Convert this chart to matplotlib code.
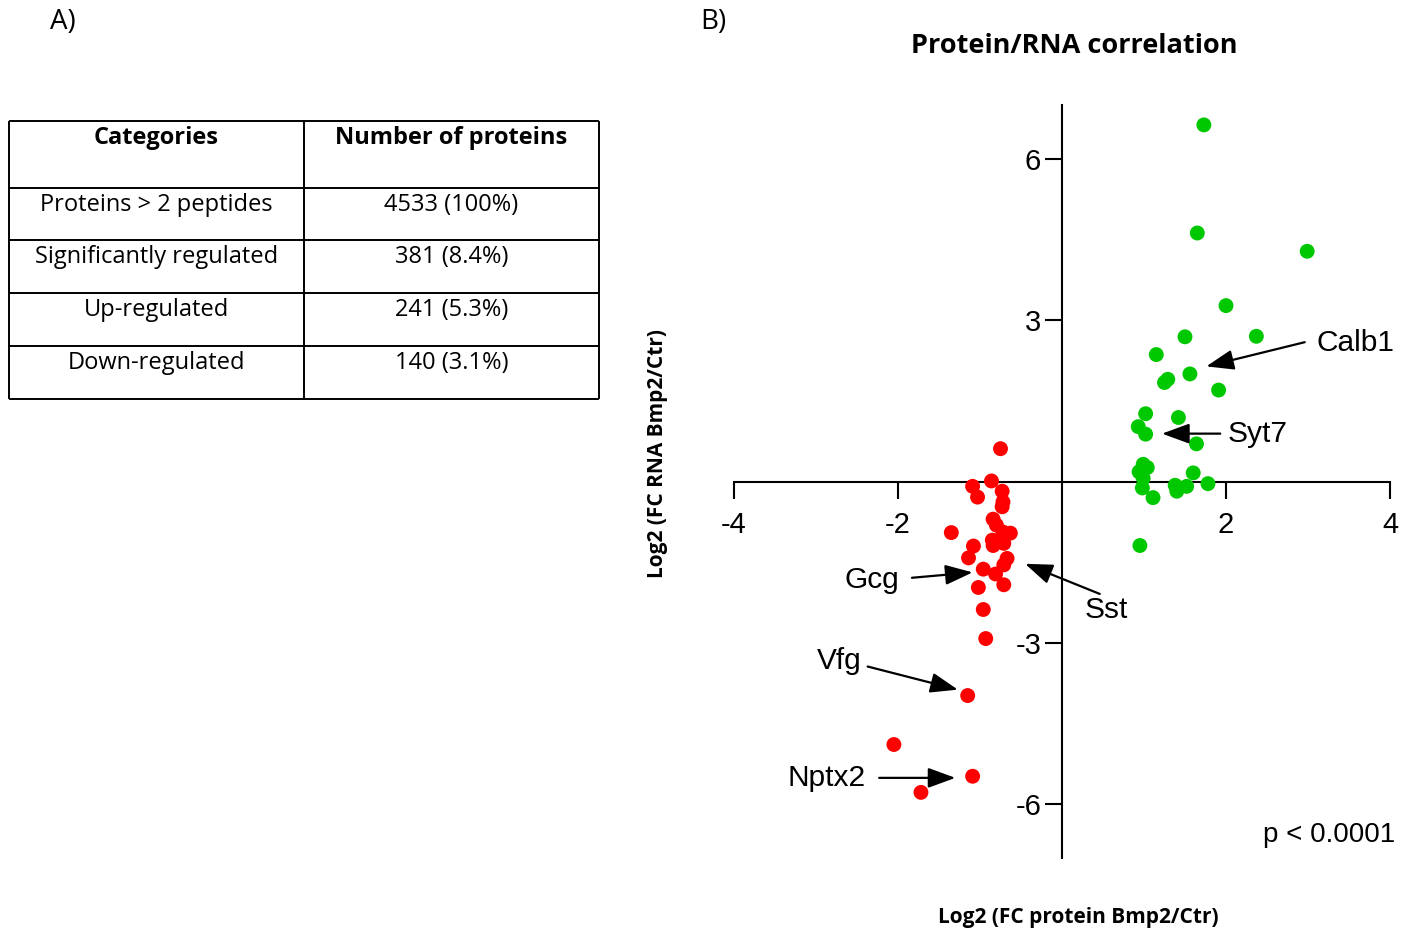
import numpy as np
import matplotlib.pyplot as plt

# table (panel A)
table_header = ['Categories', 'Number of proteins']
table_categories = ['Proteins > 2 peptides', 'Significantly regulated',
                    'Up-regulated', 'Down-regulated']
table_counts = ['4533 (100%)', '381 (8.4%)', '241 (5.3%)', '140 (3.1%)']

# scatter (panel B), log2 fold changes
up_protein = [1.73, 1.65, 2.99, 2.00, 1.50, 2.37, 1.15, 1.56, 1.29, 1.25,
              1.91, 1.02, 1.42, 0.93, 1.02, 1.64, 0.99, 1.04, 0.94, 1.60,
              0.99, 1.78, 1.38, 1.52, 0.98, 1.40, 1.11, 0.95]
up_rna = [6.63, 4.62, 4.28, 3.27, 2.69, 2.70, 2.36, 2.00, 1.90, 1.84,
          1.70, 1.26, 1.19, 1.02, 0.88, 0.70, 0.32, 0.26, 0.18, 0.16,
          0.06, -0.04, -0.07, -0.09, -0.12, -0.18, -0.30, -1.19]
down_protein = [-0.75, -0.86, -1.09, -1.03, -0.73, -0.72, -0.73, -0.84, -0.80, -0.63,
                -1.35, -0.72, -0.74, -0.85, -0.71, -1.08, -0.84, -1.14, -0.67, -0.71,
                -0.96, -0.81, -0.71, -1.02, -0.96, -0.93, -1.15, -2.05, -1.09, -1.72]
down_rna = [0.61, 0.01, -0.09, -0.29, -0.18, -0.38, -0.47, -0.70, -0.81, -0.96,
            -0.95, -0.94, -1.06, -1.09, -1.15, -1.20, -1.19, -1.42, -1.43, -1.55,
            -1.63, -1.72, -1.92, -1.97, -2.38, -2.92, -3.98, -4.89, -5.48, -5.78]

x_ticks = [-4, -2, 2, 4]
y_ticks = [-6, -3, 3, 6]

# gene labels: name, text pos, arrow tail, arrow head, alignment
genes = ['Calb1', 'Syt7', 'Gcg', 'Sst', 'Vfg', 'Nptx2']
gene_text = [(3.10, 2.58), (2.02, 0.89), (-1.99, -1.84), (0.28, -2.38), (-2.44, -3.33), (-2.39, -5.51)]
gene_tail = [(2.96, 2.59), (1.93, 0.89), (-1.83, -1.79), (0.46, -2.09), (-2.37, -3.44), (-2.23, -5.51)]
gene_head = [(1.76, 2.14), (1.22, 0.89), (-1.09, -1.69), (-0.45, -1.53), (-1.27, -3.87), (-1.30, -5.51)]
gene_ha = ['left', 'left', 'right', 'left', 'right', 'right']

W, H = 1408, 933
fig = plt.figure(figsize=(W / 100, H / 100), dpi=100)

sans = ['Open Sans', 'DejaVu Sans']
arial = ['Liberation Sans', 'DejaVu Sans']

fig.text(50 / W, 1 - 22 / H, 'A)', fontsize=20, family=sans, va='center')
fig.text(700 / W, 1 - 22 / H, 'B)', fontsize=20, family=sans, va='center')

# ---- table ----
row_edges = [121, 188, 240, 293, 346, 399]
col_edges = [9, 304, 599]
tab = fig.add_axes([0, 0, 1, 1])
tab.set_xlim(0, W)
tab.set_ylim(H, 0)
tab.axis('off')
tab.hlines(row_edges, col_edges[0], col_edges[-1], color='k', lw=1.4)
tab.vlines(col_edges, row_edges[0], row_edges[-1], color='k', lw=1.4)
cx = [(col_edges[0] + col_edges[1]) / 2, (col_edges[1] + col_edges[2]) / 2]
for j, h in enumerate(table_header):
    tab.text(cx[j], row_edges[0] + 17, h, ha='center', va='center',
             fontsize=17, fontweight='bold', family=sans)
for i, (c, n) in enumerate(zip(table_categories, table_counts)):
    tab.text(cx[0], row_edges[i + 1] + 17, c, ha='center', va='center', fontsize=17, family=sans)
    tab.text(cx[1], row_edges[i + 1] + 17, n, ha='center', va='center', fontsize=17, family=sans)

# ---- scatter ----
ax = fig.add_axes([734 / W, 75 / H, 656 / W, 753 / H])
ax.scatter(up_protein, up_rna, s=115, color='#00c800', edgecolors='none', zorder=3)
ax.scatter(down_protein, down_rna, s=115, color='#ff0000', edgecolors='none', zorder=3)
ax.set_xlim(-4, 4)
ax.set_ylim(-7, 7)
ax.spines['left'].set_position(('data', 0))
ax.spines['bottom'].set_position(('data', 0))
ax.spines['top'].set_visible(False)
ax.spines['right'].set_visible(False)
for s in ['left', 'bottom']:
    ax.spines[s].set_linewidth(1.5)
ax.set_xticks(x_ticks)
ax.set_xticklabels([str(t) for t in x_ticks])
ax.set_yticks(y_ticks)
ax.set_yticklabels([str(t) for t in y_ticks])
ax.tick_params(direction='out', length=12, width=1.5, labelsize=21, pad=3)
ax.tick_params(axis='x', pad=9)
for lab in ax.get_xticklabels() + ax.get_yticklabels():
    lab.set_family(arial)

for g, tp, tl, hd, ha in zip(genes, gene_text, gene_tail, gene_head, gene_ha):
    ax.text(tp[0], tp[1], g, ha=ha, va='center', fontsize=21.5, family=arial)
    ax.annotate('', xy=hd, xytext=tl,
                arrowprops=dict(arrowstyle='-|>,head_length=0.6,head_width=0.22',
                                mutation_scale=28, lw=1.6, color='k',
                                shrinkA=0, shrinkB=0))

ax.text(4.06, -6.57, 'p < 0.0001', ha='right', va='center', fontsize=20, family=arial)

fig.text(1074 / W, 1 - 46 / H, 'Protein/RNA correlation', ha='center', va='center',
         fontsize=19.5, fontweight='bold', family=sans)
fig.text(1078 / W, 1 - 918 / H, 'Log2 (FC protein Bmp2/Ctr)', ha='center', va='center',
         fontsize=15, fontweight='bold', family=sans)
fig.text(657 / W, 1 - 453 / H, 'Log2 (FC RNA Bmp2/Ctr)', ha='center', va='center',
         rotation=90, fontsize=15, fontweight='bold', family=sans)

fig.savefig('out.png', dpi=100)
